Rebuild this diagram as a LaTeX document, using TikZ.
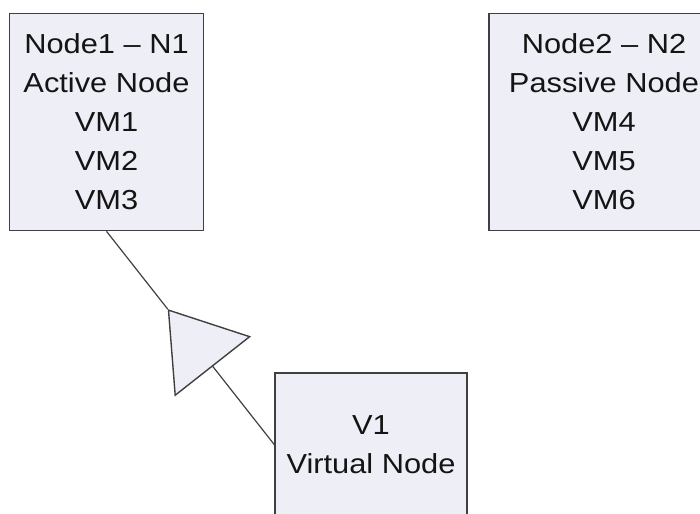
\documentclass[tikz,border=0pt]{standalone}
\usepackage{fontspec}
\setmainfont{Liberation Sans}[FakeStretch=1.12]
\definecolor{BoxLavender}{RGB}{238,238,246}
\definecolor{EdgeGrey}{RGB}{64,64,64}
\definecolor{TextDark}{RGB}{20,20,20}
\colorlet{ColourFill}{BoxLavender}
\colorlet{ColourEdge}{EdgeGrey}
\usetikzlibrary{calc}
\usetikzlibrary{arrows.meta}

\begin{document}
\begin{tikzpicture}[x=1pt,y=-1pt,
    hostbox/.style={draw=ColourEdge,fill=ColourFill,line width=1.6pt,inner sep=0pt,
      align=center,text=TextDark,font=\fontsize{27.5}{39}\selectfont},
    link/.style={ColourEdge,line width=1.2pt}]

  \useasboundingbox (0,0) rectangle (700,513);
  \clip (0,0) rectangle (700,513);

  \node[hostbox,minimum width=194pt,minimum height=217pt] (n1) at (106.5,122)
    {Node1 -- N1\\Active Node\\VM1\\VM2\\VM3};
  \node[hostbox,minimum width=230pt,minimum height=217pt] (n2) at (604,122)
    {Node2 -- N2\\Passive Node\\VM4\\VM5\\VM6};
  \node[hostbox,minimum width=192pt,minimum height=143pt] (v1) at (371,444.5)
    {V1\\Virtual Node};

  % generalisation arrow, head sits half way up
  \coordinate (tip) at ($(v1.west)!0.635!(n1.south)$);
  \draw[link,-{Triangle[open,length=73pt,width=97pt,fill=ColourFill,line width=1.4pt]}]
    (v1.west) -- (tip);
  \draw[link] (tip) -- (n1.south);

\end{tikzpicture}
\end{document}
